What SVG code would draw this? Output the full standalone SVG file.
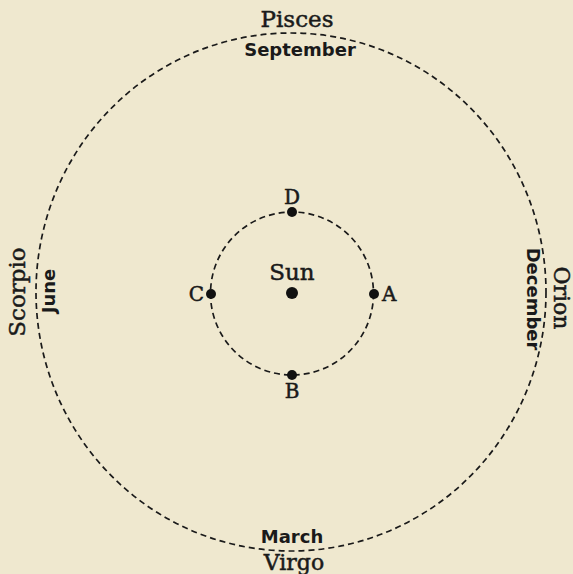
<svg xmlns="http://www.w3.org/2000/svg" width="573" height="574" viewBox="0 0 573 574">
<style>
.orbit{fill:none;stroke:#1a1a1a;stroke-width:1.7;stroke-dasharray:6 4}
.dot{fill:#111}
.serif{font-family:"DejaVu Serif","Liberation Serif",serif;fill:#1a1a1a;stroke:#1a1a1a;stroke-width:0.5}
.sans{font-family:"DejaVu Sans","Liberation Sans",sans-serif;fill:#1a1a1a;font-weight:bold}
</style>
<rect width="573" height="574" fill="#efe8cf"/>
<g id="connectors">
<ellipse class="orbit" cx="291" cy="292" rx="255" ry="259"/>
<circle class="orbit" cx="292" cy="293.5" r="81.5"/>
</g>
<g id="sun"><circle class="dot" cx="292" cy="293" r="6"/><text class="serif" x="292" y="280" font-size="23" text-anchor="middle">Sun</text></g>
<g id="A"><circle class="dot" cx="374" cy="294" r="5"/><text class="serif" x="382" y="301" font-size="20">A</text></g>
<g id="B"><circle class="dot" cx="292" cy="375" r="5"/><text class="serif" x="292" y="398" font-size="20" text-anchor="middle">B</text></g>
<g id="C"><circle class="dot" cx="211" cy="294" r="5"/><text class="serif" x="204" y="301" font-size="20" text-anchor="end">C</text></g>
<g id="D"><circle class="dot" cx="292" cy="212" r="5"/><text class="serif" x="292" y="204" font-size="20" text-anchor="middle">D</text></g>
<g id="pisces"><text class="serif" x="297" y="27" font-size="23" text-anchor="middle">Pisces</text><text class="sans" x="300" y="56" font-size="18" text-anchor="middle">September</text></g>
<g id="virgo"><text class="sans" x="292" y="543" font-size="18" text-anchor="middle">March</text><text class="serif" x="294" y="570" font-size="22" text-anchor="middle">Virgo</text></g>
<g id="scorpio"><text class="serif" transform="translate(25,292) rotate(-90)" font-size="23" text-anchor="middle">Scorpio</text><text class="sans" transform="translate(55,291) rotate(-90)" font-size="18" text-anchor="middle">June</text></g>
<g id="orion"><text class="serif" transform="translate(554,298) rotate(90)" font-size="22" text-anchor="middle">Orion</text><text class="sans" transform="translate(527,299) rotate(90)" font-size="18" text-anchor="middle">December</text></g>
</svg>
